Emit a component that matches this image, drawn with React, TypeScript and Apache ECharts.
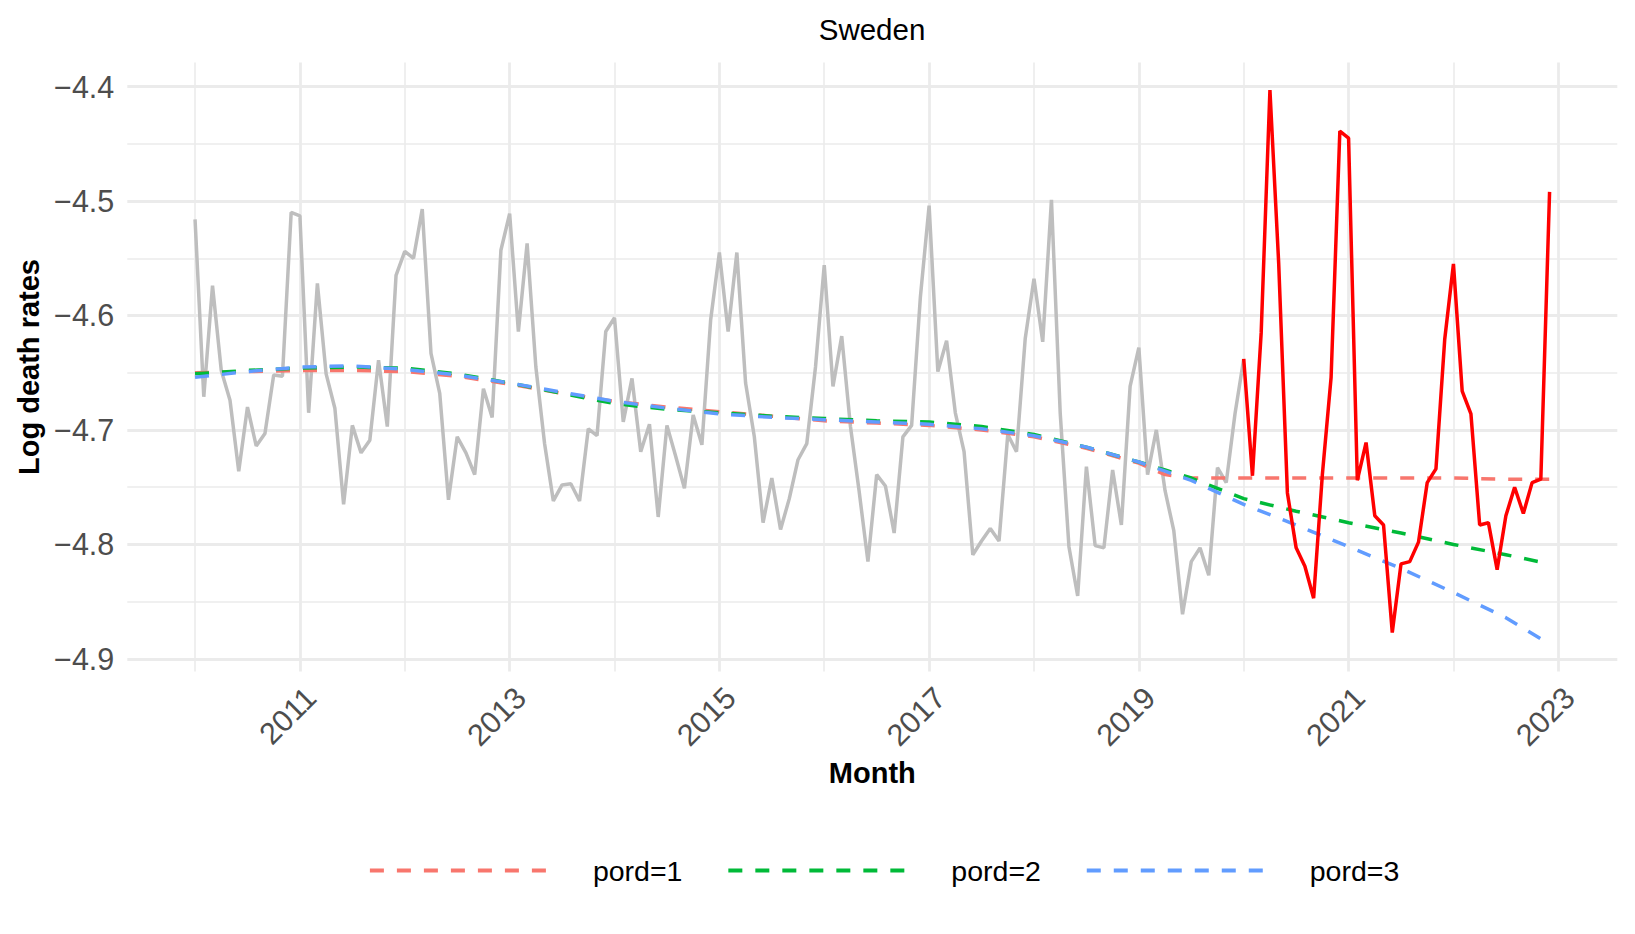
import React, { useEffect, useRef } from "react";
import * as echarts from "echarts";

// ---------- data ----------
const START_YEAR = 2010; // first month: January 2010
const FONT = "'Liberation Sans', Arial, Helvetica, sans-serif";

// observed monthly log death rates, Jan 2010 .. Jan 2020 (grey)
const observedValues = [
  -4.516, -4.671, -4.574, -4.648, -4.674, -4.736, -4.68, -4.714, -4.703, -4.652, -4.653, -4.51,
  -4.513, -4.685, -4.572, -4.651, -4.681, -4.765, -4.696, -4.72, -4.709, -4.639, -4.697, -4.565,
  -4.544, -4.55, -4.507, -4.633, -4.668, -4.761, -4.706, -4.72, -4.739, -4.664, -4.689, -4.543,
  -4.511, -4.614, -4.537, -4.645, -4.712, -4.762, -4.748, -4.747, -4.762, -4.699, -4.705, -4.614,
  -4.602, -4.693, -4.655, -4.719, -4.695, -4.776, -4.696, -4.723, -4.751, -4.687, -4.713, -4.604,
  -4.545, -4.614, -4.545, -4.659, -4.706, -4.781, -4.742, -4.787, -4.76, -4.726, -4.712, -4.645,
  -4.556, -4.662, -4.618, -4.697, -4.754, -4.815, -4.739, -4.749, -4.79, -4.706, -4.696, -4.584,
  -4.504, -4.649, -4.622, -4.685, -4.719, -4.809, -4.797, -4.786, -4.797, -4.704, -4.719, -4.62,
  -4.568, -4.623, -4.499, -4.685, -4.802, -4.845, -4.732, -4.801, -4.803, -4.735, -4.783, -4.662,
  -4.628, -4.739, -4.7, -4.753, -4.788, -4.861, -4.815, -4.803, -4.827, -4.733, -4.746, -4.686,
  -4.638,
];

// pandemic period, Jan 2020 .. Dec 2022 (red)
const PANDEMIC_START_YEAR = 2020;
const pandemicValues = [
  -4.638, -4.74, -4.615, -4.403, -4.554, -4.755, -4.803, -4.819, -4.847, -4.739, -4.654, -4.439,
  -4.445, -4.744, -4.711, -4.775, -4.783, -4.877, -4.817, -4.815, -4.798, -4.746, -4.734, -4.621,
  -4.555, -4.666, -4.686, -4.783, -4.781, -4.822, -4.775, -4.75, -4.773, -4.746, -4.743, -4.492,
];

// fitted trends (read at half-year knots)
const trendYears = [
  2010, 2010.5, 2011, 2011.5, 2012, 2012.5, 2013, 2013.5, 2014, 2014.5, 2015, 2015.5, 2016, 2016.5,
  2017, 2017.5, 2018, 2018.5, 2019, 2019.25, 2019.5, 2020, 2020.5, 2021, 2021.5, 2022, 2022.5, 2022.917,
];
const trendPord1 = [
  -4.65, -4.649, -4.648, -4.648, -4.649, -4.653, -4.66, -4.668, -4.675, -4.68, -4.684, -4.688, -4.692, -4.694,
  -4.696, -4.7, -4.706, -4.716, -4.729, -4.739, -4.742, -4.742, -4.742, -4.742, -4.742, -4.742, -4.743, -4.743,
];
const trendPord2 = [
  -4.651, -4.648, -4.646, -4.645, -4.646, -4.651, -4.659, -4.668, -4.677, -4.682, -4.685, -4.688, -4.69, -4.692,
  -4.693, -4.697, -4.704, -4.715, -4.728, -4.735, -4.742, -4.76, -4.771, -4.781, -4.79, -4.8, -4.809, -4.817,
];
const trendPord3 = [
  -4.654, -4.649, -4.645, -4.644, -4.647, -4.652, -4.659, -4.667, -4.675, -4.681, -4.686, -4.689, -4.691, -4.693,
  -4.695, -4.699, -4.705, -4.715, -4.728, -4.736, -4.744, -4.765, -4.783, -4.802, -4.821, -4.842, -4.864, -4.887,
];

const seriesNames = ["pord=1", "pord=2", "pord=3"];
const seriesColors = ["#F8766D", "#00BA38", "#619CFF"];

// axis ranges (ggplot 5% expansion)
const X_MIN = 2009.354;
const X_MAX = 2023.5625;
const Y_MIN = -4.911;
const Y_MAX = -4.379;

const LINE_W = 3.5;
const DASH = [14, 13];
const GRID_COLOR = "#EBEBEB";
const TICK_FONT = 30.5;

const monthly = (startYear: number, values: number[]) =>
  values.map((v, i) => [startYear + i / 12, v]);

export default function App() {
  const ref = useRef<HTMLDivElement>(null);

  useEffect(() => {
    if (!ref.current) return;
    const chart = echarts.init(ref.current, undefined, { renderer: "svg" });

    const trends = [trendPord1, trendPord2, trendPord3];

    const option: any = {
      animation: false,
      backgroundColor: "#ffffff",
      textStyle: { fontFamily: FONT },
      title: {
        text: "Sweden",
        left: 872,
        top: 14,
        padding: 0,
        textAlign: "center",
        textStyle: { fontFamily: FONT, fontSize: 29.5, fontWeight: "normal", color: "#000000", lineHeight: 30 },
      },
      grid: { left: 127.3, top: 62.5, width: 1490, height: 609, containLabel: false },
      legend: {
        data: seriesNames,
        left: 368,
        top: 856,
        itemWidth: 181,
        itemHeight: 14,
        itemGap: 44,
        padding: 0,
        itemStyle: { opacity: 0, borderWidth: 0 },
        lineStyle: { width: 3.8 },
        formatter: "{t|{name}}",
        textStyle: {
          fontFamily: FONT,
          fontSize: 28.5,
          color: "#000000",
          rich: { t: { fontFamily: FONT, fontSize: 28.5, color: "#000000", padding: [0, 0, 0, 37] } },
        },
      },
      xAxis: [
        {
          type: "value",
          min: X_MIN,
          max: X_MAX,
          show: false,
          position: "bottom",
        },
        {
          // grid/label axis shifted by one year so that labelled (odd) years fall on nice ticks
          type: "value",
          min: X_MIN - 1,
          max: X_MAX - 1,
          minInterval: 2,
          maxInterval: 2,
          position: "bottom",
          name: "Month",
          nameLocation: "middle",
          nameGap: 86,
          nameTextStyle: { fontFamily: FONT, fontSize: 29, fontWeight: "bold", color: "#000000", lineHeight: 29 },
          axisLine: { show: false },
          axisTick: { show: false },
          axisLabel: {
            rotate: 45,
            margin: 10,
            verticalAlign: "top",
            lineHeight: 30,
            fontFamily: FONT,
            fontSize: TICK_FONT,
            color: "#4D4D4D",
            showMinLabel: false,
            showMaxLabel: false,
            formatter: (v: number) => (Math.abs(v - Math.round(v)) < 1e-6 ? String(Math.round(v) + 1) : ""),
          },
          splitLine: { show: true, showMinLine: false, showMaxLine: false, lineStyle: { color: GRID_COLOR, width: 2.8 } },
          minorTick: { show: false, splitNumber: 2 },
          minorSplitLine: { show: true, lineStyle: { color: GRID_COLOR, width: 1.6 } },
        },
      ],
      yAxis: {
        type: "value",
        min: Y_MIN,
        max: Y_MAX,
        minInterval: 0.1,
        maxInterval: 0.1,
        name: "Log death rates",
        nameLocation: "middle",
        nameGap: 84,
        nameTextStyle: { fontFamily: FONT, fontSize: 29, fontWeight: "bold", color: "#000000", lineHeight: 29 },
        axisLine: { show: false },
        axisTick: { show: false },
        axisLabel: {
          margin: 13,
          fontFamily: FONT,
          fontSize: TICK_FONT,
          color: "#4D4D4D",
          showMinLabel: false,
          showMaxLabel: false,
          formatter: (v: number) => {
            const r = Math.round(v * 10) / 10;
            if (Math.abs(v - r) > 1e-6) return "";
            return "\u2212" + Math.abs(r).toFixed(1);
          },
        },
        splitLine: { show: true, showMinLine: false, showMaxLine: false, lineStyle: { color: GRID_COLOR, width: 2.8 } },
        minorTick: { show: false, splitNumber: 2 },
        minorSplitLine: { show: true, lineStyle: { color: GRID_COLOR, width: 1.6 } },
      },
      series: [
        {
          name: "observed",
          type: "line",
          xAxisIndex: 0,
          data: monthly(START_YEAR, observedValues),
          symbol: "none",
          silent: true,
          lineStyle: { color: "#BEBEBE", width: LINE_W },
          z: 2,
        },
        ...trends.map((vals, k) => ({
          name: seriesNames[k],
          type: "line",
          xAxisIndex: 0,
          data: trendYears.map((t, i) => [t, vals[i]]),
          symbol: "none",
          silent: true,
          itemStyle: { color: seriesColors[k] },
          lineStyle: { color: seriesColors[k], width: LINE_W, type: DASH },
          z: 3,
        })),
        {
          name: "pandemic",
          type: "line",
          xAxisIndex: 0,
          data: monthly(PANDEMIC_START_YEAR, pandemicValues),
          symbol: "none",
          silent: true,
          lineStyle: { color: "#FF0000", width: LINE_W },
          z: 4,
        },
      ],
    };

    chart.setOption(option);
    return () => chart.dispose();
  }, []);

  return <div ref={ref} style={{ position: "absolute", left: 0, top: 0, width: 1635, height: 934 }} />;
}
